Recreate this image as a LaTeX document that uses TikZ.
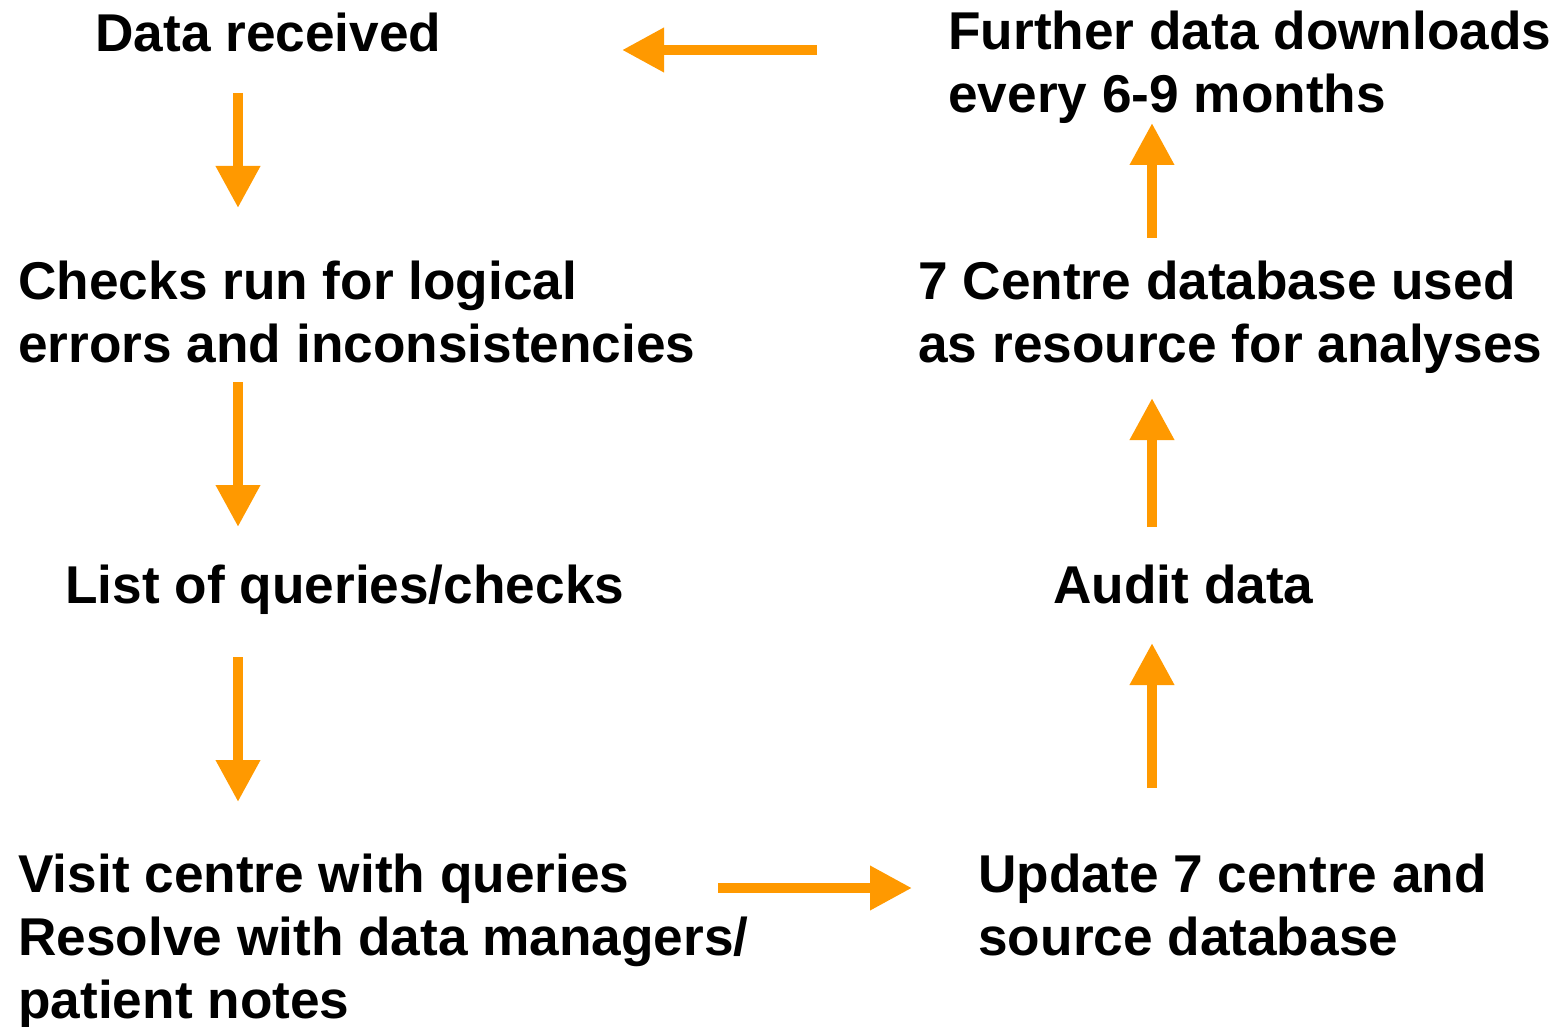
\documentclass[tikz,border=0pt]{standalone}
\usepackage{fontspec}
\setmainfont{Liberation Sans}
\usetikzlibrary{arrows.meta}
\definecolor{flowOrange}{RGB}{255,153,0}
\begin{document}
\begin{tikzpicture}[x=0.5pt, y=-0.5pt,
		step text/.style={anchor=base west, inner sep=0pt, align=left, font=\fontsize{26.6}{31.5}\selectfont\bfseries},
		flow/.style={line width=5pt, flowOrange, -{Triangle[width=21pt, length=21pt]}}]
			\useasboundingbox (0,0) rectangle (1562,1027);
			% left column
			\node[step text] (recv) at (95,52) {Data received};
			\node[step text] (checks) at (18,362) {Checks run for logical\\errors and inconsistencies};
			\node[step text] (list) at (65,603) {List of queries/checks};
			\node[step text] (visit) at (18,1018) {Visit centre with queries\\Resolve with data managers/\\patient notes};
			% right column
			\node[step text] (update) at (978,955) {Update 7 centre and\\source database};
			\node[step text] (audit) at (1053,603) {Audit data};
			\node[step text] (resource) at (918,362) {7 Centre database used\\as resource for analyses};
			\node[step text] (further) at (948,113) {Further data downloads\\every 6-9 months};
			% arrow ends
			\coordinate (a1s) at (238,93);   \coordinate (a1e) at (238,208);
			\coordinate (a2s) at (238,382);  \coordinate (a2e) at (238,527);
			\coordinate (a3s) at (238,657);  \coordinate (a3e) at (238,802);
			\coordinate (a4s) at (718,888);  \coordinate (a4e) at (912,888);
			\coordinate (a5s) at (1152,788); \coordinate (a5e) at (1152,643);
			\coordinate (a6s) at (1152,527); \coordinate (a6e) at (1152,398);
			\coordinate (a7s) at (1152,238); \coordinate (a7e) at (1152,123);
			\coordinate (a8s) at (817,50);   \coordinate (a8e) at (622,50);
			\draw[flow] (a1s) -- (a1e);
			\draw[flow] (a2s) -- (a2e);
			\draw[flow] (a3s) -- (a3e);
			\draw[flow] (a4s) -- (a4e);
			\draw[flow] (a5s) -- (a5e);
			\draw[flow] (a6s) -- (a6e);
			\draw[flow] (a7s) -- (a7e);
			\draw[flow] (a8s) -- (a8e);
		\end{tikzpicture}
\end{document}
